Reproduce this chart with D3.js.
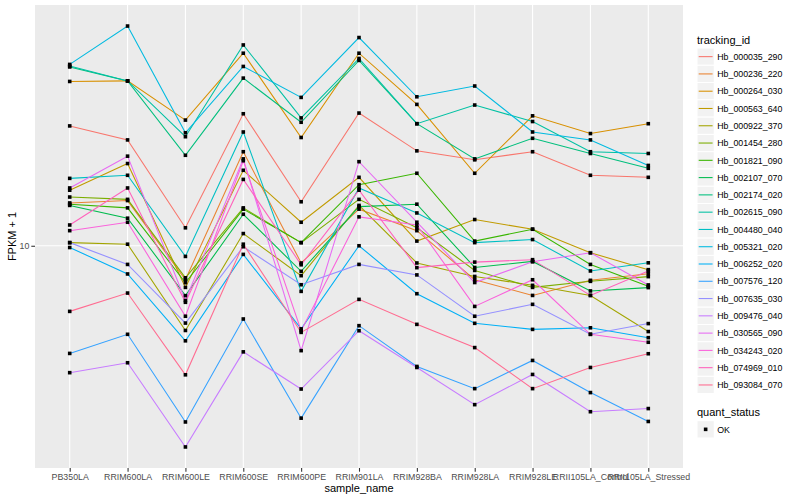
<!DOCTYPE html>
<html><head><meta charset="utf-8">
<script src="https://cdn.jsdelivr.net/npm/d3@7"></script>
<style>body{margin:0;background:#fff}svg{font-family:"Liberation Sans",Arial,Helvetica,sans-serif}</style>
</head><body>
<svg id="c" width="800" height="500"></svg>
<script>
const samples = ["PB350LA","RRIM600LA","RRIM600LE","RRIM600SE","RRIM600PE","RRIM901LA","RRIM928BA","RRIM928LA","RRIM928LE","RRII105LA_Control","RRII105LA_Stressed"];
const trackingIds = ["Hb_000035_290","Hb_000236_220","Hb_000264_030","Hb_000563_640","Hb_000922_370","Hb_001454_280","Hb_001821_090","Hb_002107_070","Hb_002174_020","Hb_002615_090","Hb_004480_040","Hb_005321_020","Hb_006252_020","Hb_007576_120","Hb_007635_030","Hb_009476_040","Hb_030565_090","Hb_034243_020","Hb_074969_010","Hb_093084_070"];
const palette = ["#F8766D","#EA8331","#D89000","#C09B00","#A3A500","#7CAE00","#39B600","#00BB4E","#00BF7D","#00C1A3","#00BFC4","#00BAE0","#00B0F6","#35A2FF","#9590FF","#C77CFF","#E76BF3","#FA62DB","#FF62BC","#FF6C91"];
// FPKM + 1 per sample
const Hb_000035_290 = [21.3,19.5,11.2,23.0,13.2,23.1,18.2,17.2,18.1,15.6,15.4];
const Hb_000236_220 = [13.1,13.3,8.07,18.1,8.97,12.6,11.0,8.07,7.31,8.04,8.38];
const Hb_000264_030 = [28.2,28.3,22.1,33.7,19.8,33.7,24.4,15.8,22.7,20.3,21.6];
const Hb_000563_640 = [14.2,16.8,7.69,16.1,11.6,15.4,10.3,11.8,11.1,9.57,8.60];
const Hb_000922_370 = [10.2,10.1,5.86,10.8,8.28,12.9,8.97,8.24,7.79,7.31,5.82];
const Hb_001454_280 = [13.6,13.4,8.17,12.7,10.2,13.4,11.2,8.56,7.69,7.99,8.23];
const Hb_001821_090 = [13.0,12.7,7.92,12.6,10.2,14.7,15.8,10.3,11.1,8.89,7.74];
const Hb_002107_070 = [12.9,11.9,7.30,12.2,8.51,12.8,13.0,8.72,9.06,7.52,7.68];
const Hb_002174_020 = [30.9,28.3,17.7,28.8,21.8,32.2,21.6,17.3,19.7,17.9,16.3];
const Hb_002615_090 = [31.1,28.3,19.9,35.5,22.4,32.6,21.6,24.3,21.9,18.1,17.9];
const Hb_004480_040 = [15.3,15.6,9.35,20.5,7.50,14.4,12.3,10.2,10.4,8.53,8.98];
const Hb_005321_020 = [31.4,40.0,20.4,31.0,25.5,37.2,25.6,27.4,20.5,19.5,16.6];
const Hb_006252_020 = [9.89,8.37,5.49,9.47,5.92,10.0,7.39,6.13,5.90,5.96,5.60];
const Hb_007576_120 = [5.07,5.72,3.29,6.30,3.37,6.04,4.67,4.06,4.85,3.96,3.30];
const Hb_007635_030 = [10.2,8.89,6.14,9.94,7.82,8.89,8.32,6.41,6.91,5.72,6.12];
const Hb_009476_040 = [4.49,4.78,2.81,5.12,4.05,5.85,4.64,3.67,4.44,3.51,3.58];
const Hb_030565_090 = [14.4,17.6,7.08,17.3,5.16,17.0,11.6,7.93,9.04,9.57,7.81];
const Hb_034243_020 = [11.0,11.6,6.41,17.1,5.85,12.0,11.4,6.82,8.07,5.72,5.44];
const Hb_074969_010 = [11.4,14.4,7.00,15.2,8.87,14.2,8.71,9.02,9.16,7.31,8.53];
const Hb_093084_070 = [6.61,7.42,4.43,10.1,5.79,7.13,6.09,5.26,4.06,4.64,5.06];
const yTicks = [10];
const quantStatus = ["OK"];

const seriesValues = [Hb_000035_290,Hb_000236_220,Hb_000264_030,Hb_000563_640,Hb_000922_370,Hb_001454_280,Hb_001821_090,Hb_002107_070,Hb_002174_020,Hb_002615_090,Hb_004480_040,Hb_005321_020,Hb_006252_020,Hb_007576_120,Hb_007635_030,Hb_009476_040,Hb_030565_090,Hb_034243_020,Hb_074969_010,Hb_093084_070];
const series = trackingIds.map((id,i)=>({id, color:palette[i], values:seriesValues[i].map((v,j)=>({s:samples[j], v}))}));

const svg = d3.select("#c");
const P = {l:35, r:683, t:5, b:468};
svg.append("rect").attr("x",P.l).attr("y",P.t).attr("width",P.r-P.l).attr("height",P.b-P.t).attr("fill","#EBEBEB");

const all = seriesValues.flat();
const lmin = Math.log10(d3.min(all)), lmax = Math.log10(d3.max(all));
const ex = (lmax-lmin)*0.05;
const y = d3.scaleLog().domain([Math.pow(10,lmin-ex), Math.pow(10,lmax+ex)]).range([P.b,P.t]);
const x = d3.scalePoint().domain(samples).range([P.l,P.r]).padding(0.6);

// grid
const g = svg.append("g");
g.selectAll(".gx").data(samples).join("line").attr("x1",d=>x(d)).attr("x2",d=>x(d)).attr("y1",P.t).attr("y2",P.b).attr("stroke","#fff").attr("stroke-width",1.07);
g.selectAll(".gy").data(yTicks).join("line").attr("x1",P.l).attr("x2",P.r).attr("y1",d=>y(d)).attr("y2",d=>y(d)).attr("stroke","#fff").attr("stroke-width",1.07);

// lines
const line = d3.line().x(d=>x(d.s)).y(d=>y(d.v));
svg.append("g").selectAll("path").data(series).join("path").attr("d",d=>line(d.values)).attr("fill","none").attr("stroke",d=>d.color).attr("stroke-width",1.07);
// points
const pts = series.flatMap(d=>d.values);
svg.append("g").selectAll("rect").data(pts).join("rect").attr("x",d=>x(d.s)-1.8).attr("y",d=>y(d.v)-1.8).attr("width",3.6).attr("height",3.6).attr("fill","#000");

// axes
const ax = svg.append("g").attr("transform",`translate(0,${P.b})`).call(d3.axisBottom(x).tickSize(3.7).tickPadding(2));
ax.select(".domain").remove();
ax.selectAll("line").attr("stroke","#333").attr("stroke-width",1.07);
ax.selectAll("text").attr("fill","#4D4D4D").attr("font-size","8.8px").attr("font-family","Liberation Sans, Arial, sans-serif");
const ay = svg.append("g").attr("transform",`translate(${P.l},0)`).call(d3.axisLeft(y).tickValues(yTicks).tickFormat(d3.format("d")).tickSize(3.7).tickPadding(2));
ay.select(".domain").remove();
ay.selectAll("line").attr("stroke","#333").attr("stroke-width",1.07);
ay.selectAll("text").attr("fill","#4D4D4D").attr("font-size","8.8px").attr("font-family","Liberation Sans, Arial, sans-serif");

svg.append("text").attr("x",(P.l+P.r)/2).attr("y",492).attr("text-anchor","middle").attr("font-size","11px").attr("fill","#000").text("sample_name");
svg.append("text").attr("transform",`translate(16,${(P.t+P.b)/2}) rotate(-90)`).attr("text-anchor","middle").attr("font-size","11px").attr("fill","#000").text("FPKM + 1");

// legend
const L = svg.append("g");
const lx = 697, keyH = 17.28, ky0 = 48;
L.append("text").attr("x",lx).attr("y",44).attr("font-size","11px").text("tracking_id");
series.forEach((d,i)=>{
  const yy = ky0 + i*keyH;
  L.append("rect").attr("x",lx).attr("y",yy).attr("width",keyH).attr("height",keyH).attr("fill","#F2F2F2").attr("stroke","#fff").attr("stroke-width",1);
  L.append("line").attr("x1",lx+1.7).attr("x2",lx+keyH-1.7).attr("y1",yy+keyH/2).attr("y2",yy+keyH/2).attr("stroke",d.color).attr("stroke-width",1.07);
  L.append("text").attr("x",lx+keyH+3).attr("y",yy+keyH/2+3.2).attr("font-size","8.8px").text(d.id);
});
L.append("text").attr("x",lx).attr("y",416).attr("font-size","11px").text("quant_status");
quantStatus.forEach((q,i)=>{
  const yy = 420.7 + i*keyH;
  L.append("rect").attr("x",lx).attr("y",yy).attr("width",keyH).attr("height",keyH).attr("fill","#F2F2F2").attr("stroke","#fff");
  L.append("rect").attr("x",lx+keyH/2-1.8).attr("y",yy+keyH/2-1.8).attr("width",3.6).attr("height",3.6).attr("fill","#000");
  L.append("text").attr("x",lx+keyH+3).attr("y",yy+keyH/2+3.2).attr("font-size","8.8px").text(q);
});
</script>
</body></html>
